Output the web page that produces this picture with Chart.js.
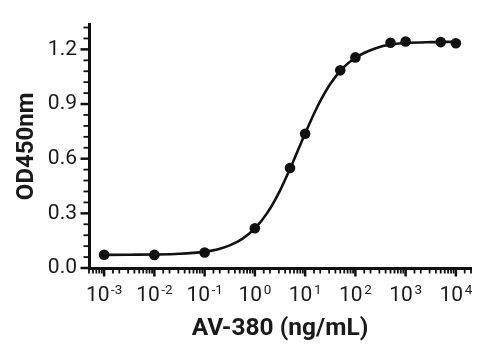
<!DOCTYPE html>
<html>
<head>
<meta charset="utf-8">
<title>AV-380 ELISA</title>
<script src="https://cdn.jsdelivr.net/npm/chart.js@4/dist/chart.umd.min.js"></script>
<style>
  html, body { margin: 0; padding: 0; background: #fff; }
  canvas { display: block; }
</style>
</head>
<body>
<canvas id="chart" width="495" height="347"></canvas>
<script>
// measured points (ng/mL vs OD450)
const concentrations = [0.001, 0.01, 0.1, 1, 5, 10, 50, 100, 500, 1000, 5000, 10000];
const od450 = [0.073, 0.072, 0.085, 0.218, 0.549, 0.737, 1.085, 1.156, 1.236, 1.243, 1.240, 1.234];

// fitted curve, sampled along the plot
const fitConc = [0.001, 0.00316, 0.01, 0.0316, 0.1, 0.178, 0.316, 0.562, 1, 1.78, 3.16, 5.62,
                 10, 17.8, 31.6, 56.2, 100, 178, 316, 562, 1000, 3162, 10000];
const fitOd = [0.072, 0.073, 0.074, 0.078, 0.090, 0.102, 0.124, 0.160, 0.217, 0.304, 0.425, 0.576,
               0.738, 0.889, 1.010, 1.097, 1.154, 1.190, 1.215, 1.228, 1.235, 1.240, 1.242];

// axes
const xExponents = [-3, -2, -1, 0, 1, 2, 3, 4];
const yTicks = [0, 0.3, 0.6, 0.9, 1.2];
const yMinorStep = 0.06;
const xMin = 0.0005, xMax = 20000;
const yMin = 0, yMax = 1.336;

const ink = "#111";

// tick marks on both axes plus the 10^n labels under the x axis
const axisMarks = {
    id: "axisMarks",
    afterDraw(chart) {
        const ctx = chart.ctx;
        const xs = chart.scales.x;
        const ys = chart.scales.y;
        const axisY = xs.top;
        const axisX = ys.right;

        ctx.save();
        ctx.strokeStyle = ink;
        ctx.lineCap = "butt";

        // x ticks: decades long, others short
        xs.ticks.forEach(t => {
            const lg = Math.log10(t.value);
            const major = Math.abs(lg - Math.round(lg)) < 1e-6;
            const px = xs.getPixelForValue(t.value);
            ctx.lineWidth = major ? 2.5 : 1.8;
            ctx.beginPath();
            ctx.moveTo(px, axisY);
            ctx.lineTo(px, axisY + (major ? 8.5 : 5.5));
            ctx.stroke();
        });

        // y ticks
        const nMinor = Math.floor(yMax / yMinorStep + 1e-6);
        for (let k = 0; k <= nMinor; k++) {
            const v = k * yMinorStep;
            const major = yTicks.some(t => Math.abs(t - v) < 1e-6);
            const py = ys.getPixelForValue(v);
            ctx.lineWidth = major ? 2.5 : 1.8;
            ctx.beginPath();
            ctx.moveTo(axisX, py);
            ctx.lineTo(axisX - (major ? 8.5 : 5.5), py);
            ctx.stroke();
        }

        // x labels: "10" with a raised exponent
        ctx.fillStyle = "#1a1a1a";
        ctx.textBaseline = "alphabetic";
        ctx.textAlign = "left";
        xExponents.forEach(e => {
            const px = xs.getPixelForValue(Math.pow(10, e));
            const base = "10";
            const sup = String(e);
            ctx.font = "21px Roboto";
            const wBase = ctx.measureText(base).width;
            ctx.font = "13.5px Roboto";
            const wSup = ctx.measureText(sup).width;
            const gap = 1.5;
            const x0 = px - (wBase + gap + wSup) / 2;
            ctx.font = "21px Roboto";
            ctx.fillText(base, x0, 301);
            ctx.font = "13.5px Roboto";
            ctx.fillText(sup, x0 + wBase + gap, 293.5);
        });
        ctx.restore();
    }
};

new Chart(document.getElementById("chart"), {
    type: "scatter",
    data: {
        datasets: [
            {
                label: "OD450",
                data: concentrations.map((c, i) => ({ x: c, y: od450[i] })),
                pointRadius: 5.3,
                pointBackgroundColor: ink,
                pointBorderWidth: 0,
                showLine: false
            },
            {
                label: "fit",
                data: fitConc.map((c, i) => ({ x: c, y: fitOd[i] })),
                showLine: true,
                pointRadius: 0,
                borderColor: ink,
                borderWidth: 2.6,
                cubicInterpolationMode: "monotone"
            }
        ]
    },
    options: {
        responsive: false,
        animation: false,
        layout: { padding: { top: 16, right: 24, left: 0, bottom: 0 } },
        plugins: {
            legend: { display: false },
            tooltip: { enabled: false }
        },
        scales: {
            x: {
                type: "logarithmic",
                min: xMin,
                max: xMax,
                grid: { display: false, drawTicks: false },
                border: { display: true, color: ink, width: 3 },
                ticks: { autoSkip: false, callback: () => "" },
                title: {
                    display: true,
                    text: "AV-380 (ng/mL)",
                    color: "#1a1a1a",
                    font: { family: "Roboto", size: 24.5, weight: "bold", lineHeight: 1.2 },
                    padding: { top: 0, bottom: 3 }
                },
                afterFit: s => { s.height = 79; }
            },
            y: {
                min: yMin,
                max: yMax,
                grid: { display: false, drawTicks: false },
                border: { display: true, color: ink, width: 3 },
                afterBuildTicks: s => { s.ticks = yTicks.map(v => ({ value: v })); },
                ticks: {
                    padding: 12,
                    color: "#1a1a1a",
                    font: { family: "Roboto", size: 21 },
                    callback: v => Number(v).toFixed(1)
                },
                title: {
                    display: true,
                    text: "OD450nm",
                    color: "#1a1a1a",
                    font: { family: "Roboto", size: 24, weight: "bold", lineHeight: 1.2 },
                    padding: { top: 13, bottom: 0 }
                },
                afterFit: s => { s.width = 89; }
            }
        }
    },
    plugins: [axisMarks]
});
</script>
</body>
</html>
